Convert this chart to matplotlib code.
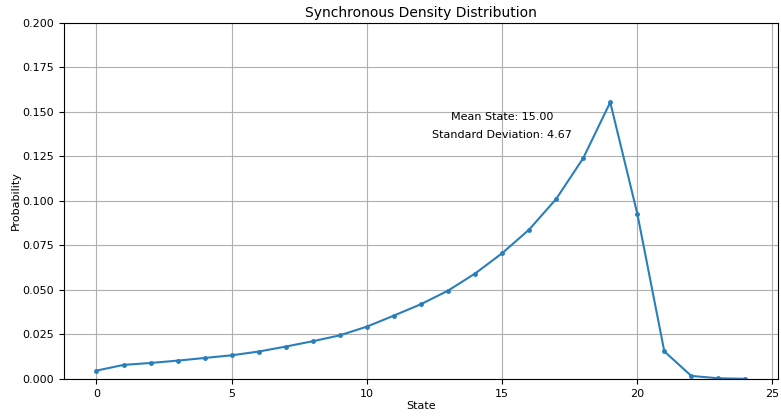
import numpy as np
import matplotlib
matplotlib.use('Agg')
import matplotlib.pyplot as plt

states = list(range(25))
probs = [0.0047, 0.0079, 0.0090, 0.0103, 0.0118, 0.0133, 0.0154, 0.0182,
         0.0212, 0.0245, 0.0294, 0.0356, 0.0420, 0.0496, 0.0592, 0.0706,
         0.0839, 0.1011, 0.1240, 0.1554, 0.0929, 0.0155, 0.0017, 0.0004,
         0.0001]
mean_state = 15.00
std_dev = 4.67

fig = plt.figure(figsize=(7.81, 4.16), dpi=100)
ax = fig.add_axes([0.082, 0.089, 0.914, 0.856])
ax.plot(states, probs, marker='o', markersize=2.5, color='#2a7fba')
ax.set_ylim(0, 0.2)
ax.set_title('Synchronous Density Distribution', fontsize=10, pad=4)
ax.set_xlabel('State', fontsize=8, labelpad=2)
ax.set_ylabel('Probability', fontsize=8, labelpad=1)
ax.tick_params(labelsize=8)
ax.grid(True)
ax.text(mean_state, 0.147, f'Mean State: {mean_state:.2f}', ha='center', va='center', fontsize=8)
ax.text(mean_state, 0.137, f'Standard Deviation: {std_dev:.2f}', ha='center', va='center', fontsize=8)

fig.savefig('out.png', dpi=100)
